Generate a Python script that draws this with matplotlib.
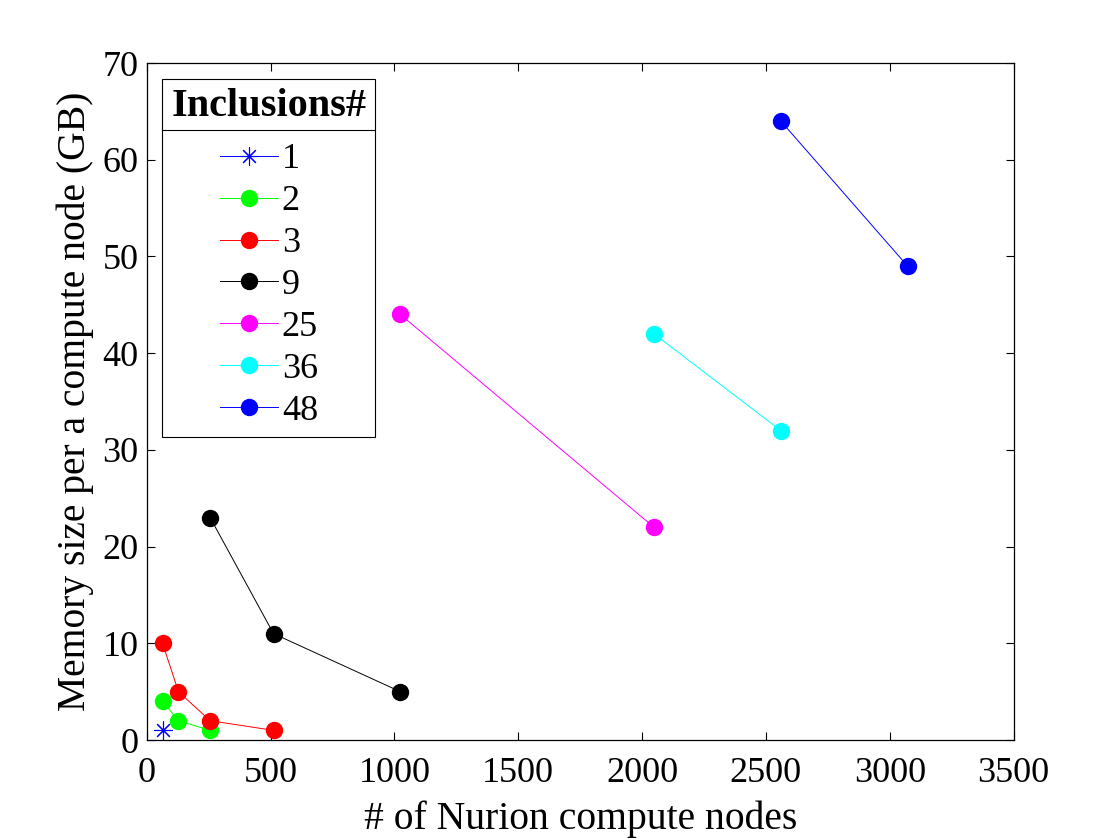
import matplotlib.pyplot as plt
from matplotlib.lines import Line2D

# Data: (nodes, memory GB) per inclusion count
labels = ['1', '2', '3', '9', '25', '36', '48']
colors = ['#0000ff', '#00ff00', '#ff0000', '#000000', '#ff00ff', '#00ffff', '#0000ff']
nodes_1 = [64]
mem_1 = [1]
nodes_2 = [64, 128, 256]
mem_2 = [4, 2, 1]
nodes_3 = [64, 128, 256, 512]
mem_3 = [10, 5, 2, 1]
nodes_9 = [256, 512, 1024]
mem_9 = [23, 11, 5]
nodes_25 = [1024, 2048]
mem_25 = [44, 22]
nodes_36 = [2048, 2560]
mem_36 = [42, 32]
nodes_48 = [2560, 3072]
mem_48 = [64, 49]

xs = [nodes_1, nodes_2, nodes_3, nodes_9, nodes_25, nodes_36, nodes_48]
ys = [mem_1, mem_2, mem_3, mem_9, mem_25, mem_36, mem_48]

plt.rcParams['font.family'] = ['Liberation Serif', 'DejaVu Serif']

fig = plt.figure(figsize=(11.2, 8.4), dpi=100)
ax = fig.add_axes([0.131, 0.119, 0.774, 0.806])

for i, (x, y) in enumerate(zip(xs, ys)):
    if i == 0:
        # MATLAB-style asterisk
        ax.plot(x, y, '-', marker=(8, 2, 0), color=colors[i], lw=0.7, ms=13,
                markeredgewidth=0.8, label=labels[i])
    else:
        ax.plot(x, y, '-o', color=colors[i], lw=0.7, ms=11.5,
                markerfacecolor=colors[i], markeredgecolor=colors[i], label=labels[i])

ax.set_xlim(0, 3500)
ax.set_ylim(0, 70)
ax.set_xticks(range(0, 3501, 500))
ax.set_yticks(range(0, 71, 10))
ax.tick_params(direction='in', length=6, width=0.8, labelsize=26,
               top=True, right=True)
ax.tick_params(axis='x', pad=12)
ax.tick_params(axis='y', pad=6)
for s in ax.spines.values():
    s.set_linewidth(0.9)
ax.set_xlabel('# of Nurion compute nodes', fontsize=28.5, labelpad=8)
ax.set_ylabel('Memory size per a compute node (GB)', fontsize=28.5, labelpad=6)

leg = ax.legend(loc='upper left', bbox_to_anchor=(0.018, 0.977), borderaxespad=0,
                title='Inclusions#', fontsize=26, fancybox=False, framealpha=1,
                edgecolor='black', handlelength=1.6, labelspacing=0.24,
                handletextpad=0.12, borderpad=0.25)
leg.get_title().set_fontsize(29)
leg.get_title().set_fontweight('bold')
leg.get_frame().set_linewidth(0.8)
# a bit more room between the title and the entries
leg._legend_box.sep = leg._legend_box.sep + 7

# separator under the legend title
fig.canvas.draw()
r = fig.canvas.get_renderer()
fb = leg.get_frame().get_window_extent(r)
tb = leg.get_title().get_window_extent(r)
ysep = tb.y0 - 5
inv = fig.transFigure.inverted()
(x0, y0), (x1, _) = inv.transform([(fb.x0, ysep), (fb.x1, ysep)])
fig.add_artist(Line2D([x0, x1], [y0, y0], transform=fig.transFigure,
                      color='black', lw=0.8, zorder=10))

fig.savefig('out.png', dpi=100)
